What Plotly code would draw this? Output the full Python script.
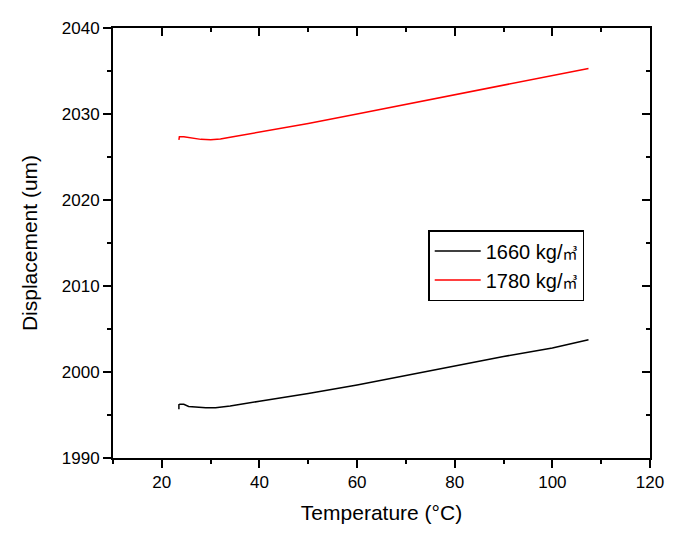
import plotly.graph_objects as go

# Temperature (°C) and displacement (um) for each density
temp_1660 = [23.5, 23.5, 23.7, 24.5, 25.5, 27, 29, 31, 34, 40, 50, 60, 70, 80, 90, 100, 107.4]
disp_1660 = [1995.66, 1996.2, 1996.25, 1996.25, 1996.0, 1995.9, 1995.85, 1995.85, 1996.05,
             1996.6, 1997.5, 1998.5, 1999.6, 2000.7, 2001.8, 2002.8, 2003.76]

temp_1780 = [23.5, 23.5, 23.6, 24.5, 26, 28, 30, 32, 34, 40, 50, 60, 70, 80, 90, 100, 107.4]
disp_1780 = [2026.98, 2027.3, 2027.35, 2027.35, 2027.2, 2027.05, 2027.0, 2027.1, 2027.3,
             2027.9, 2028.9, 2030.0, 2031.1, 2032.2, 2033.3, 2034.4, 2035.3]

names = ["1660 kg/<span style='font-size:15px'>㎥</span>",
         "1780 kg/<span style='font-size:15px'>㎥</span>"]

FONT = "Liberation Sans, Arial, Noto Sans CJK SC, sans-serif"

fig = go.Figure()
fig.add_trace(go.Scatter(x=temp_1660, y=disp_1660, mode="lines", name=names[0],
                         line=dict(color="black", width=1.5)))
fig.add_trace(go.Scatter(x=temp_1780, y=disp_1780, mode="lines", name=names[1],
                         line=dict(color="red", width=1.5)))

axis_common = dict(showgrid=False, zeroline=False, showline=True, linecolor="black",
                   linewidth=2, tickcolor="black", tickwidth=2, ticklen=8, automargin=False,
                   tickfont=dict(size=17, color="black", family=FONT))

# the page body adds an 8px margin, so the figure is a bit smaller than the window
fig.update_layout(
    width=665, height=532,
    margin=dict(l=105, r=23, t=20, b=82, autoexpand=False),
    paper_bgcolor="white", plot_bgcolor="white",
    font=dict(family=FONT, color="black"),
    xaxis=dict(range=[10, 120], dtick=20, tick0=0, ticks="outside",
               minor=dict(ticks="outside", dtick=10, ticklen=4, tickwidth=2, tickcolor="black"),
               title=dict(text="Temperature (°C)", font=dict(size=21), standoff=14),
               **axis_common),
    yaxis=dict(range=[1990, 2040], dtick=10, ticks="outside",
               minor=dict(ticks="outside", dtick=5, ticklen=4, tickwidth=2, tickcolor="black"),
               title=dict(text="Displacement (um)", font=dict(size=21), standoff=18),
               **axis_common),
    xaxis2=dict(overlaying="x", side="top", matches="x", range=[10, 120], dtick=20, tick0=0,
                ticks="inside", showticklabels=False,
                minor=dict(ticks="inside", dtick=10, ticklen=4, tickwidth=2, tickcolor="black"),
                **axis_common),
    yaxis2=dict(overlaying="y", side="right", matches="y", range=[1990, 2040], dtick=10,
                ticks="inside", showticklabels=False,
                minor=dict(ticks="inside", dtick=5, ticklen=4, tickwidth=2, tickcolor="black"),
                **axis_common),
    legend=dict(x=0.587, y=0.53, xanchor="left", yanchor="top", itemwidth=46,
                bgcolor="white", bordercolor="black", borderwidth=1.5,
                font=dict(size=20, color="black", family=FONT)),
    showlegend=True,
)

# dummy trace so the mirrored axes get drawn
fig.add_trace(go.Scatter(x=[None], y=[None], xaxis="x2", yaxis="y2", showlegend=False,
                         hoverinfo="skip"))

fig.write_html("out.html")
